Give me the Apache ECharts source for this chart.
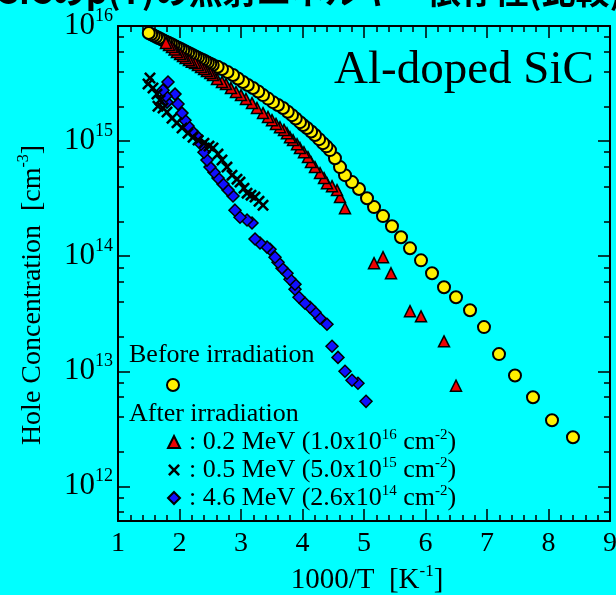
<!DOCTYPE html>
<html>
<head>
<meta charset="utf-8">
<script src="https://cdn.jsdelivr.net/npm/echarts@6/dist/echarts.min.js"></script>
<style>
html, body { margin: 0; padding: 0; background: #00ffff; }
#main { width: 616px; height: 595px; }
</style>
</head>
<body>
<div id="main"></div>
<script>
var serif = "'Liberation Serif', 'Times New Roman', serif";

// axis ticks
var xMin = 1, xMax = 9;
var yMin = 5e11, yMax = 1e16;
var yMajor = [1e12, 1e13, 1e14, 1e15, 1e16];
var yMinor = [6e11, 8e11, 2e12, 4e12, 6e12, 8e12, 2e13, 4e13, 6e13, 8e13,
	2e14, 4e14, 6e14, 8e14, 2e15, 4e15, 6e15, 8e15];

// legend text
var energies = ['0.2 MeV', '0.5 MeV', '4.6 MeV'];
var fluenceMant = ['1.0', '5.0', '2.6'];
var fluenceExp = ['16', '15', '14'];

// [1000/T, hole concentration cm^-3], listed from low T to high T
var before = [[8.398,2.67e12],[8.057,3.75e12],[7.748,5.94e12],[7.455,9.2e12],[7.195,1.41e13],
	[6.951,2.42e13],[6.724,3.39e13],[6.496,4.40e13],[6.301,5.37e13],[6.106,7.1e13],[5.927,9.2e13],
	[5.748,1.17e14],[5.602,1.46e14],[5.455,1.82e14],[5.309,2.23e14],[5.163,2.67e14],[5.049,3.19e14],
	[4.919,3.83e14],[4.805,4.40e14],[4.691,5.06e14],[4.610,5.94e14],[4.528,7.1e14],[4.447,8.35e14],
	[4.39,9.0e14],[4.333,9.6e14],[4.27,1.04e15],[4.203,1.13e15],[4.14,1.21e15],[4.073,1.30e15],
	[4.01,1.38e15],[3.959,1.46e15],[3.89,1.57e15],[3.829,1.68e15],[3.76,1.80e15],[3.683,1.94e15],
	[3.60,2.06e15],[3.520,2.18e15],[3.44,2.34e15],[3.358,2.51e15],[3.28,2.70e15],[3.195,2.89e15],
	[3.11,3.07e15],[3.033,3.26e15],[2.95,3.50e15],[2.870,3.75e15],[2.78,3.98e15],[2.691,4.23e15],
	[2.62,4.42e15],[2.54,4.58e15],[2.50,4.70e15],[2.46,4.81e15],[2.42,4.93e15],[2.38,5.06e15],
	[2.34,5.18e15],[2.30,5.31e15],[2.26,5.44e15],[2.22,5.58e15],[2.18,5.71e15],[2.14,5.86e15],
	[2.10,6.01e15],[2.06,6.15e15],[2.02,6.31e15],[1.98,6.47e15],[1.94,6.62e15],[1.90,6.79e15],
	[1.86,6.97e15],[1.82,7.14e15],[1.78,7.31e15],[1.74,7.50e15],[1.70,7.69e15],[1.66,7.87e15],
	[1.62,8.07e15],[1.58,8.27e15],[1.54,8.48e15],[1.50,8.69e15]];

var mev02 = [[6.496,7.5e12],[6.301,1.82e13],[5.927,3.0e13],[5.748,3.33e13],[5.439,7.1e13],
	[5.309,9.8e13],[5.163,8.7e13],[4.691,2.61e14],[4.610,3.26e14],[4.561,3.75e14],[4.480,4.06e14],
	[4.398,4.31e14],[4.350,4.77e14],[4.285,5.27e14],[4.203,5.94e14],[4.138,6.57e14],[4.089,7.26e14],
	[4.024,8.0e14],[3.959,8.7e14],[3.911,9.4e14],[3.846,1.02e15],[3.797,1.08e15],[3.748,1.17e15],
	[3.699,1.25e15],[3.634,1.32e15],[3.569,1.41e15],[3.504,1.52e15],[3.439,1.62e15],[3.358,1.75e15],
	[3.260,1.94e15],[3.179,2.14e15],[3.081,2.32e15],[3.0,2.51e15],[2.919,2.67e15],[2.837,2.89e15],
	[2.756,3.13e15],[2.691,3.26e15],[2.610,3.46e15],[2.545,3.75e15],[2.50,3.9e15],[2.447,4.06e15],
	[2.40,4.22e15],[2.350,4.40e15],[2.30,4.58e15],[2.252,4.77e15],[2.20,4.9e15],[2.154,5.06e15],
	[2.10,5.27e15],[2.057,5.49e15],[2.01,5.7e15],[1.959,5.94e15],[1.92,6.25e15],[1.878,6.57e15],
	[1.83,6.85e15],[1.780,7.12e15]];

var mev05 = [[3.358,2.77e14],[3.293,3.0e14],[3.228,3.26e14],[3.163,3.39e14],[3.098,3.53e14],
	[3.049,3.90e14],[2.984,4.40e14],[2.935,4.67e14],[2.854,5.06e14],[2.772,5.94e14],[2.691,6.84e14],
	[2.626,7.71e14],[2.545,8.7e14],[2.480,9.05e14],[2.398,9.6e14],[2.301,1.02e15],[2.220,1.08e15],
	[2.138,1.17e15],[2.041,1.30e15],[1.959,1.44e15],[1.878,1.58e15],[1.797,1.79e15],[1.732,1.94e15],
	[1.683,2.27e15],[1.650,2.01e15],[1.634,2.56e15],[1.569,2.89e15],[1.520,3.53e15],[1.488,3.13e15]];

var mev46 = [[5.033,5.48e12],[4.902,7.87e12],[4.805,8.35e12],[4.691,1.0e13],[4.577,1.32e13],
	[4.480,1.65e13],[4.398,2.56e13],[4.285,2.89e13],[4.203,3.26e13],[4.122,3.60e13],[4.041,3.90e13],
	[3.943,4.40e13],[3.878,5.16e13],[3.878,5.71e13],[3.797,6.31e13],[3.748,7.1e13],[3.667,7.87e13],
	[3.602,8.87e13],[3.553,9.8e13],[3.472,1.15e14],[3.423,1.20e14],[3.309,1.30e14],[3.228,1.41e14],
	[3.179,1.94e14],[3.098,2.06e14],[2.984,2.18e14],[2.902,2.51e14],[2.870,3.33e14],[2.789,3.75e14],
	[2.707,4.23e14],[2.626,4.77e14],[2.561,5.37e14],[2.496,5.94e14],[2.447,6.84e14],[2.398,8.0e14],
	[2.350,9.4e14],[2.285,1.10e15],[2.203,1.22e15],[2.138,1.35e15],[2.089,1.52e15],[2.041,1.75e15],
	[1.976,2.10e15],[1.927,2.56e15],[1.813,3.26e15],[1.797,2.18e15],[1.780,2.46e15],[1.732,2.77e15]];

var crossPath = 'path://M0,1.5L1.5,0L5,3.5L8.5,0L10,1.5L6.5,5L10,8.5L8.5,10L5,6.5L1.5,10L0,8.5L3.5,5Z';

function xAxisDef(pos, showLabel) {
	return {
		type: 'value', position: pos, min: xMin, max: xMax, interval: 1,
		axisLine: { onZero: false, lineStyle: { color: '#000', width: 2 } },
		axisTick: { inside: true, length: 12, lineStyle: { color: '#000', width: 1.5 } },
		minorTick: { show: true, splitNumber: 5, length: 6, lineStyle: { color: '#000', width: 1.5 } },
		axisLabel: { show: showLabel, margin: 9, color: '#000', fontFamily: serif, fontSize: 28 },
		splitLine: { show: false }
	};
}

function yAxisDef(pos, major, showLabel) {
	return {
		type: 'log', logBase: 10, position: pos, min: yMin, max: yMax,
		axisLine: { show: major, onZero: false, lineStyle: { color: '#000', width: 2 } },
		axisTick: { inside: true, length: major ? 12 : 6, customValues: major ? yMajor : yMinor,
			lineStyle: { color: '#000', width: 1.5 } },
		axisLabel: {
			show: showLabel, margin: 5, customValues: yMajor,
			formatter: function (v) {
				return '{b|10}{s|' + Math.round(Math.log10(v)) + '}';
			},
			rich: {
				b: { fontFamily: serif, fontSize: 31, color: '#000', lineHeight: 38 },
				s: { fontFamily: serif, fontSize: 18, color: '#000', lineHeight: 17, verticalAlign: 'top' }
			}
		},
		splitLine: { show: false }
	};
}

var myChart = echarts.init(document.getElementById('main'));
var option = {
	backgroundColor: '#00ffff',
	animation: false,
	grid: { left: 118, right: 6, top: 26, bottom: 74, outerBoundsMode: 'none' },
	xAxis: [xAxisDef('bottom', true), xAxisDef('top', false)],
	yAxis: [yAxisDef('left', true, true), yAxisDef('left', false, false),
		yAxisDef('right', true, false), yAxisDef('right', false, false)],
	legend: [{
		data: ['Before irradiation'], left: 166, top: 378, padding: 0,
		itemWidth: 12, itemHeight: 12, selectedMode: false,
		formatter: function () { return ''; },
		textStyle: { fontSize: 12 }
	}, {
		data: energies, orient: 'vertical', left: 167, top: 428, padding: 0,
		itemWidth: 12, itemHeight: 12, itemGap: 0, selectedMode: false,
		formatter: function (name) {
			var i = energies.indexOf(name);
			return ': ' + name + ' (' + fluenceMant[i] + 'x10{s|' + fluenceExp[i] + '} cm{s|-2})';
		},
		textStyle: {
			fontFamily: serif, fontSize: 26, color: '#000', lineHeight: 28, padding: [0, 0, 0, 4],
			rich: { s: { fontFamily: serif, fontSize: 15, color: '#000', lineHeight: 13, verticalAlign: 'top' } }
		}
	}],
	graphic: [
		{ type: 'text', x: -2, y: -9, style: { text: 'SiCのp(T)の照射エネルギー依存性(比較)',
			font: "bold 34px 'Noto Sans CJK JP'", fill: '#000', align: 'left', verticalAlign: 'middle' } },
		{ type: 'text', x: 334, y: 71, style: { text: 'Al-doped SiC',
			font: '47px ' + serif, fill: '#000', align: 'left', verticalAlign: 'middle' } },
		{ type: 'text', x: 129, y: 355, style: { text: 'Before irradiation',
			font: '26px ' + serif, fill: '#000', align: 'left', verticalAlign: 'middle' } },
		{ type: 'text', x: 129, y: 414, style: { text: 'After irradiation',
			font: '26px ' + serif, fill: '#000', align: 'left', verticalAlign: 'middle' } },
		{ type: 'text', x: 367, y: 580, style: {
			text: '{b|1000/T  [K}{s|-1}{b|]}', align: 'center', verticalAlign: 'middle',
			rich: {
				b: { fontFamily: serif, fontSize: 29, fill: '#000', lineHeight: 34 },
				s: { fontFamily: serif, fontSize: 17, fill: '#000', lineHeight: 14, verticalAlign: 'top' }
			} } },
		{ type: 'text', x: 33, y: 295, rotation: Math.PI / 2, style: {
			text: '{b|Hole Concentration  [cm}{s|-3}{b|]}', align: 'center', verticalAlign: 'middle',
			rich: {
				b: { fontFamily: serif, fontSize: 28, fill: '#000', lineHeight: 34 },
				s: { fontFamily: serif, fontSize: 16, fill: '#000', lineHeight: 14, verticalAlign: 'top' }
			} } }
	],
	series: [{
		name: 'Before irradiation', type: 'scatter', data: before,
		symbol: 'circle', symbolSize: 12,
		itemStyle: { color: '#fff000', borderColor: '#000', borderWidth: 2, opacity: 1 }
	}, {
		name: '0.2 MeV', type: 'scatter', data: mev02,
		symbol: 'triangle', symbolSize: 11,
		itemStyle: { color: '#ee0000', borderColor: '#000', borderWidth: 1.5, opacity: 1 }
	}, {
		name: '4.6 MeV', type: 'scatter', data: mev46,
		symbol: 'diamond', symbolSize: 12,
		itemStyle: { color: '#1010ff', borderColor: '#000', borderWidth: 1.5, opacity: 1 }
	}, {
		name: '0.5 MeV', type: 'scatter', data: mev05,
		symbol: crossPath, symbolSize: 12,
		itemStyle: { color: '#000', opacity: 1 }
	}]
};
myChart.setOption(option);
</script>
</body>
</html>
